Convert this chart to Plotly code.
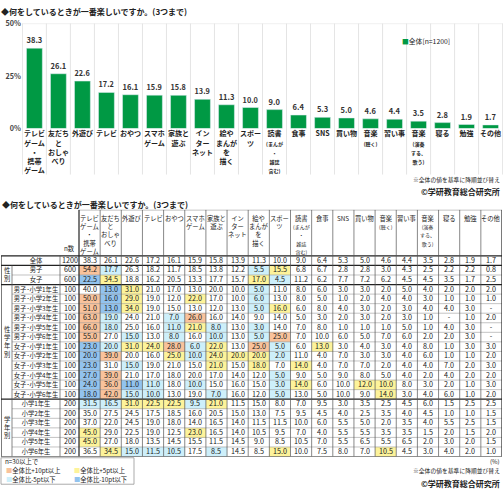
import plotly.graph_objects as go

FONT = "Noto Sans CJK JP"
W, H = 504, 500

# ---------------- data ----------------
categories = ["テレビゲーム・携帯ゲーム", "友だちとおしゃべり", "外遊び", "テレビ", "おやつ",
              "スマホゲーム", "家族と遊ぶ", "インターネット", "絵やまんがを描く", "スポーツ",
              "読書(まんが・雑誌含む)", "食事", "SNS", "買い物", "音楽(聴く)", "習い事",
              "音楽(演奏する、歌う)", "寝る", "勉強", "その他"]

tick_labels = ["テレビ<br>ゲーム<br>・<br>携帯<br>ゲーム", "友だち<br>と<br>おしゃ<br>べり", "外遊び", "テレビ", "おやつ",
               "スマホ<br>ゲーム", "家族と<br>遊ぶ", "イン<br>ター<br>ネット", "絵や<br>まんが<br>を<br>描く", "スポー<br>ツ",
               "読書<br><span style='font-size:5px'>(まんが<br>・<br>雑誌<br>含む)</span>", "食事", "SNS", "買い物",
               "音楽<br><span style='font-size:5px'>(聴く)</span>", "習い事",
               "音楽<br><span style='font-size:5px'>(演奏<br>する、<br>歌う)</span>", "寝る", "勉強", "その他"]

y_tick_values = [0, 25, 50]
y_tick_labels = ["0%", "25%", "50%"]

row_labels = ["全体", "男子", "女子",
              "男子･小学1年生", "男子･小学2年生", "男子･小学3年生", "男子･小学4年生", "男子･小学5年生", "男子･小学6年生",
              "女子･小学1年生", "女子･小学2年生", "女子･小学3年生", "女子･小学4年生", "女子･小学5年生", "女子･小学6年生",
              "小学1年生", "小学2年生", "小学3年生", "小学4年生", "小学5年生", "小学6年生"]
n_counts = [1200, 600, 600, 100, 100, 100, 100, 100, 100, 100, 100, 100, 100, 100, 100, 200, 200, 200, 200, 200, 200]

overall = [38.3, 26.1, 22.6, 17.2, 16.1, 15.9, 15.8, 13.9, 11.3, 10.0, 9.0, 6.4, 5.3, 5.0, 4.6, 4.4, 3.5, 2.8, 1.9, 1.7]
boys = [54.2, 17.7, 26.3, 18.2, 11.7, 18.5, 13.8, 12.2, 5.5, 15.5, 6.8, 6.7, 2.8, 2.8, 3.0, 4.3, 2.5, 2.2, 2.2, 0.8]
girls = [22.5, 34.5, 18.8, 16.2, 20.5, 13.3, 17.7, 15.7, 17.0, 4.5, 11.2, 6.2, 7.7, 7.2, 6.2, 4.5, 4.5, 3.5, 1.7, 2.5]
boys_g1 = [40.0, 13.0, 31.0, 21.0, 17.0, 13.0, 20.0, 10.0, 5.0, 11.0, 8.0, 6.0, 3.0, 3.0, 2.0, 5.0, 4.0, 2.0, 2.0, 2.0]
boys_g2 = [50.0, 16.0, 29.0, 19.0, 12.0, 22.0, 17.0, 10.0, 6.0, 13.0, 8.0, 5.0, 1.0, 2.0, 4.0, 4.0, 3.0, 1.0, 1.0, 1.0]
boys_g3 = [51.0, 13.0, 34.0, 19.0, 15.0, 13.0, 12.0, 13.0, 5.0, 16.0, 6.0, 8.0, 4.0, 3.0, 2.0, 3.0, 4.0, 4.0, 3.0, None]
boys_g4 = [63.0, 19.0, 24.0, 21.0, 7.0, 26.0, 16.0, 14.0, 9.0, 14.0, 5.0, 3.0, 2.0, 3.0, 2.0, 3.0, 1.0, None, 1.0, 2.0]
boys_g5 = [66.0, 18.0, 25.0, 16.0, 11.0, 21.0, 8.0, 13.0, 3.0, 14.0, 7.0, 8.0, 1.0, 1.0, 1.0, 5.0, 1.0, 4.0, 3.0, None]
boys_g6 = [55.0, 27.0, 15.0, 13.0, 8.0, 16.0, 10.0, 13.0, 5.0, 25.0, 7.0, 10.0, 6.0, 5.0, 7.0, 6.0, 2.0, 2.0, 3.0, None]
girls_g1 = [23.0, 20.0, 31.0, 24.0, 28.0, 6.0, 22.0, 13.0, 25.0, 5.0, 6.0, 13.0, 3.0, 4.0, 3.0, 4.0, 8.0, 1.0, 3.0, 3.0]
girls_g2 = [20.0, 39.0, 20.0, 16.0, 25.0, 10.0, 24.0, 20.0, 20.0, 2.0, 11.0, 4.0, 7.0, 3.0, 3.0, 4.0, 6.0, 1.0, 1.0, 2.0]
girls_g3 = [23.0, 31.0, 15.0, 19.0, 21.0, 15.0, 21.0, 15.0, 18.0, 7.0, 14.0, 4.0, 7.0, 7.0, 2.0, 4.0, 4.0, 7.0, 2.0, 3.0]
girls_g4 = [27.0, 39.0, 21.0, 17.0, 18.0, 20.0, 17.0, 14.0, 12.0, 5.0, 9.0, 5.0, 9.0, 8.0, 5.0, 4.0, 2.0, 4.0, 2.0, 2.0]
girls_g5 = [24.0, 36.0, 11.0, 11.0, 18.0, 10.0, 15.0, 16.0, 15.0, 3.0, 14.0, 6.0, 10.0, 12.0, 10.0, 8.0, 3.0, 2.0, 1.0, 3.0]
girls_g6 = [18.0, 42.0, 15.0, 10.0, 13.0, 19.0, 7.0, 16.0, 12.0, 5.0, 13.0, 5.0, 10.0, 9.0, 14.0, 3.0, 4.0, 6.0, 1.0, 2.0]
grade1 = [31.5, 16.5, 31.0, 22.5, 22.5, 9.5, 21.0, 11.5, 15.0, 8.0, 7.0, 9.5, 3.0, 3.5, 2.5, 4.5, 6.0, 1.5, 2.5, 2.5]
grade2 = [35.0, 27.5, 24.5, 17.5, 18.5, 16.0, 20.5, 15.0, 13.0, 7.5, 9.5, 4.5, 4.0, 2.5, 3.5, 4.0, 4.5, 1.0, 1.0, 1.5]
grade3 = [37.0, 22.0, 24.5, 19.0, 18.0, 14.0, 16.5, 14.0, 11.5, 11.5, 10.0, 6.0, 5.5, 5.0, 2.0, 3.5, 4.0, 5.5, 2.5, 1.5]
grade4 = [45.0, 29.0, 22.5, 19.0, 12.5, 23.0, 16.5, 14.0, 10.5, 9.5, 7.0, 4.0, 5.5, 5.5, 3.5, 3.5, 1.5, 2.0, 1.5, 2.0]
grade5 = [45.0, 27.0, 18.0, 13.5, 14.5, 15.5, 11.5, 14.5, 9.0, 8.5, 10.5, 7.0, 5.5, 6.5, 5.5, 6.5, 2.0, 3.0, 2.0, 1.5]
grade6 = [36.5, 34.5, 15.0, 11.5, 10.5, 17.5, 8.5, 14.5, 8.5, 15.0, 10.0, 7.5, 8.0, 7.0, 10.5, 4.5, 3.0, 4.0, 2.0, 1.0]

table_rows = [overall, boys, girls, boys_g1, boys_g2, boys_g3, boys_g4, boys_g5, boys_g6,
              girls_g1, girls_g2, girls_g3, girls_g4, girls_g5, girls_g6,
              grade1, grade2, grade3, grade4, grade5, grade6]

groups = [("性<br>別", 1, 2), ("性<br>学<br>年<br>別", 3, 14), ("学<br>年<br>別", 15, 20)]

# highlight codes: 0 none, 1 +10pt, 2 +5pt, 3 -5pt, 4 -10pt (cells published differently from the rounded rule)
highlight_overrides = {(5, 2): 2, (13, 1): 1}

# ---------------- styles ----------------
GREEN = "#009944"
HL_COLORS = ["#ffffff", "#f9c29b", "#fdf39a", "#cdeffa", "#92c3ee"]
TXT = "#222222"

def code_for(r, c, v):
    if (r, c) in highlight_overrides:
        return highlight_overrides[(r, c)]
    if r == 0 or v is None or n_counts[r] < 30:
        return 0
    d = round(v - overall[c], 1)
    if d >= 10: return 1
    if d >= 5: return 2
    if d <= -10: return 4
    if d <= -5: return 3
    return 0

fig = go.Figure()

# ---------------- top bar chart ----------------
fig.add_trace(go.Bar(
    x=categories, y=overall, marker_color=GREEN, width=0.66,
    text=[f"{v:.1f}" for v in overall], textposition="outside",
    textfont=dict(family=FONT, size=7.5, color="#333333", weight="bold"),
    cliponaxis=False, hoverinfo="skip", showlegend=False, xaxis="x", yaxis="y"))

# ---------------- table ----------------
nrow, ncol = len(table_rows), len(categories)
n_w, lab_w, grp_w = 0.898, 2.27, 0.52
x_data_edges = [-0.5 - n_w] + [k - 0.5 for k in range(ncol + 1)]
x_lab_edges = [-0.5 - n_w - lab_w, -0.5 - n_w]
x_left = -0.5 - n_w - lab_w - grp_w
head_top = -5.32

z, txt = [], []
for r, row in enumerate(table_rows):
    z.append([0] + [code_for(r, c, v) for c, v in enumerate(row)])
    txt.append([str(n_counts[r])] + ["-" if v is None else f"{v:.1f}" for v in row])

cs = []
for i, col in enumerate(HL_COLORS):
    cs.append([i / 5, col]); cs.append([(i + 1) / 5, col])
fig.add_trace(go.Heatmap(
    x=x_data_edges, y=list(range(nrow)), z=z, text=txt, texttemplate="%{text}",
    textfont=dict(family=FONT, size=7.2, color=TXT), colorscale=cs, zmin=0, zmax=5,
    showscale=False, hoverinfo="skip", xaxis="x2", yaxis="y2"))
fig.add_trace(go.Heatmap(
    x=x_lab_edges, y=list(range(nrow)), z=[[0] for _ in row_labels], text=[[l] for l in row_labels],
    texttemplate="%{text}", textfont=dict(family=FONT, size=6.3, color=TXT), colorscale=cs, zmin=0, zmax=5,
    showscale=False, hoverinfo="skip", xaxis="x2", yaxis="y2"))

shapes = []
# top chart separators
for k in range(ncol + 1):
    shapes.append(dict(type="line", xref="x", yref="paper", x0=k - 0.5, x1=k - 0.5,
                       y0=1 - 173 / H, y1=1 - 19 / H, line=dict(color="#dddddd", width=0.8), layer="below"))
shapes.append(dict(type="line", xref="paper", yref="y", x0=22 / W, x1=503 / W, y0=50, y1=50,
                   line=dict(color="#dddddd", width=0.8), layer="below"))

thin = dict(color="#9a9a9a", width=0.6)
vline = dict(color="#555555", width=0.7)
thick = dict(color="#222222", width=1.2)
group_bounds = {0.5, 2.5, 14.5}
for i in range(nrow - 1):
    yb = i + 0.5
    if yb in group_bounds:
        shapes.append(dict(type="line", xref="x2", yref="y2", x0=x_left, x1=ncol - 0.5, y0=yb, y1=yb, line=thick))
    else:
        shapes.append(dict(type="line", xref="x2", yref="y2", x0=x_lab_edges[0], x1=ncol - 0.5, y0=yb, y1=yb, line=thin))
shapes.append(dict(type="line", xref="x2", yref="y2", x0=x_left, x1=ncol - 0.5, y0=-0.5, y1=-0.5, line=thick))
shapes.append(dict(type="line", xref="x2", yref="y2", x0=x_left, x1=ncol - 0.5, y0=nrow - 0.5, y1=nrow - 0.5, line=thick))
shapes.append(dict(type="line", xref="x2", yref="y2", x0=-0.5, x1=ncol - 0.5, y0=head_top, y1=head_top, line=vline))
shapes.append(dict(type="line", xref="x2", yref="y2", x0=x_left, x1=x_left, y0=-0.5, y1=nrow - 0.5, line=thick))
shapes.append(dict(type="line", xref="x2", yref="y2", x0=x_lab_edges[0], x1=x_lab_edges[0], y0=0.5, y1=nrow - 0.5, line=vline))
shapes.append(dict(type="line", xref="x2", yref="y2", x0=x_lab_edges[1], x1=x_lab_edges[1], y0=-0.5, y1=nrow - 0.5, line=vline))
for k in range(ncol + 1):
    shapes.append(dict(type="line", xref="x2", yref="y2", x0=k - 0.5, x1=k - 0.5, y0=head_top, y1=nrow - 0.5,
                       line=thick if k in (0, ncol) else vline))
# legend box bottom
shapes.append(dict(type="rect", xref="paper", yref="paper", x0=1 / W, x1=134 / W, y0=1 - 489 / H, y1=1 - 462 / H,
                   line=dict(color="#888888", width=0.7)))

ann = []
ann.append(dict(text="◆何をしているときが一番楽しいですか。(3つまで)", xref="paper", yref="paper", x=0, y=1,
                xanchor="left", yanchor="top", showarrow=False, borderpad=0,
                font=dict(family=FONT, size=8, color=TXT, weight="bold")))
ann.append(dict(text=f"<span style='color:{GREEN}'>■</span>全体[n={n_counts[0]}]", xref="paper", yref="paper",
                x=400 / W, y=1 - 37 / H, xanchor="left", yanchor="middle", showarrow=False,
                font=dict(family=FONT, size=6.8, color=TXT)))
ann.append(dict(text="※全体の値を基準に降順並び替え", xref="paper", yref="paper", x=502 / W, y=1 - 178 / H,
                xanchor="right", yanchor="middle", showarrow=False, font=dict(family=FONT, size=5.8, color=TXT)))
ann.append(dict(text="©学研教育総合研究所", xref="paper", yref="paper", x=502 / W, y=1 - 190 / H,
                xanchor="right", yanchor="middle", showarrow=False, font=dict(family=FONT, size=8, color=TXT, weight="bold")))
ann.append(dict(text="◆何をしているときが一番楽しいですか。(3つまで)", xref="paper", yref="paper", x=0, y=1 - 196 / H,
                xanchor="left", yanchor="top", showarrow=False, font=dict(family=FONT, size=8, color=TXT, weight="bold")))
for k, lab in enumerate(tick_labels):
    ann.append(dict(text=lab, xref="x2", yref="y2", x=k, y=head_top + 0.2, xanchor="center", yanchor="top",
                    showarrow=False, font=dict(family=FONT, size=6.3, color=TXT)))
ann.append(dict(text="n数", xref="x2", yref="y2", x=-0.5 - n_w / 2, y=-0.55, xanchor="center", yanchor="bottom",
                showarrow=False, font=dict(family=FONT, size=6.3, color=TXT)))
for lab, r0, r1 in groups:
    ann.append(dict(text=lab, xref="x2", yref="y2", x=x_left + grp_w / 2, y=(r0 + r1) / 2, xanchor="center",
                    yanchor="middle", showarrow=False, font=dict(family=FONT, size=6.3, color=TXT)))
# bottom legend
leg_items = [("全体比+10pt以上", 1, 4, 475), ("全体比+5pt以上", 2, 72, 475),
             ("全体比-5pt以下", 3, 4, 484), ("全体比-10pt以下", 4, 72, 484)]
ann.append(dict(text="n=30以上で", xref="paper", yref="paper", x=3 / W, y=1 - 466 / H, xanchor="left",
                yanchor="middle", showarrow=False, font=dict(family=FONT, size=6.3, color=TXT)))
for t, c, xp, yp in leg_items:
    ann.append(dict(text=f"<span style='color:{HL_COLORS[c]}'>■</span>{t}", xref="paper", yref="paper",
                    x=xp / W, y=1 - yp / H, xanchor="left", yanchor="middle", showarrow=False,
                    font=dict(family=FONT, size=6.3, color=TXT)))
ann.append(dict(text="(%)", xref="paper", yref="paper", x=502 / W, y=1 - 466 / H, xanchor="right",
                yanchor="middle", showarrow=False, font=dict(family=FONT, size=6, color=TXT)))
ann.append(dict(text="※全体の値を基準に降順並び替え", xref="paper", yref="paper", x=502 / W, y=1 - 475 / H,
                xanchor="right", yanchor="middle", showarrow=False, font=dict(family=FONT, size=5.8, color=TXT)))
ann.append(dict(text="©学研教育総合研究所", xref="paper", yref="paper", x=502 / W, y=1 - 488 / H,
                xanchor="right", yanchor="middle", showarrow=False, font=dict(family=FONT, size=8, color=TXT, weight="bold")))

fig.update_layout(
    width=W, height=H, margin=dict(l=0, r=0, t=0, b=0),
    paper_bgcolor="white", plot_bgcolor="white", showlegend=False,
    font=dict(family=FONT, color=TXT),
    xaxis=dict(domain=[22 / W, 503 / W], tickvals=categories, ticktext=tick_labels, tickangle=0,
               tickfont=dict(family=FONT, size=7, color=TXT, weight="bold"), showgrid=False, zeroline=False,
               showline=False, ticks="", fixedrange=True),
    yaxis=dict(domain=[1 - 126 / H, 1 - 19 / H], range=[0, 50], tickvals=y_tick_values, ticktext=y_tick_labels,
               tickfont=dict(family=FONT, size=7.2, color="#444444", weight="bold"), showgrid=False,
               zeroline=False, showline=False, ticks="", fixedrange=True),
    xaxis2=dict(domain=[1 / W, 502 / W], range=[x_left, ncol - 0.5], visible=False, fixedrange=True),
    yaxis2=dict(domain=[1 - 460.75 / H, 1 - 209 / H], range=[nrow - 0.5, head_top], visible=False, fixedrange=True),
    shapes=shapes, annotations=ann, bargap=0.34,
)

fig.write_html("out.html", config={"displayModeBar": False},
               post_script="document.body.style.margin='0';document.body.style.overflow='hidden';")
